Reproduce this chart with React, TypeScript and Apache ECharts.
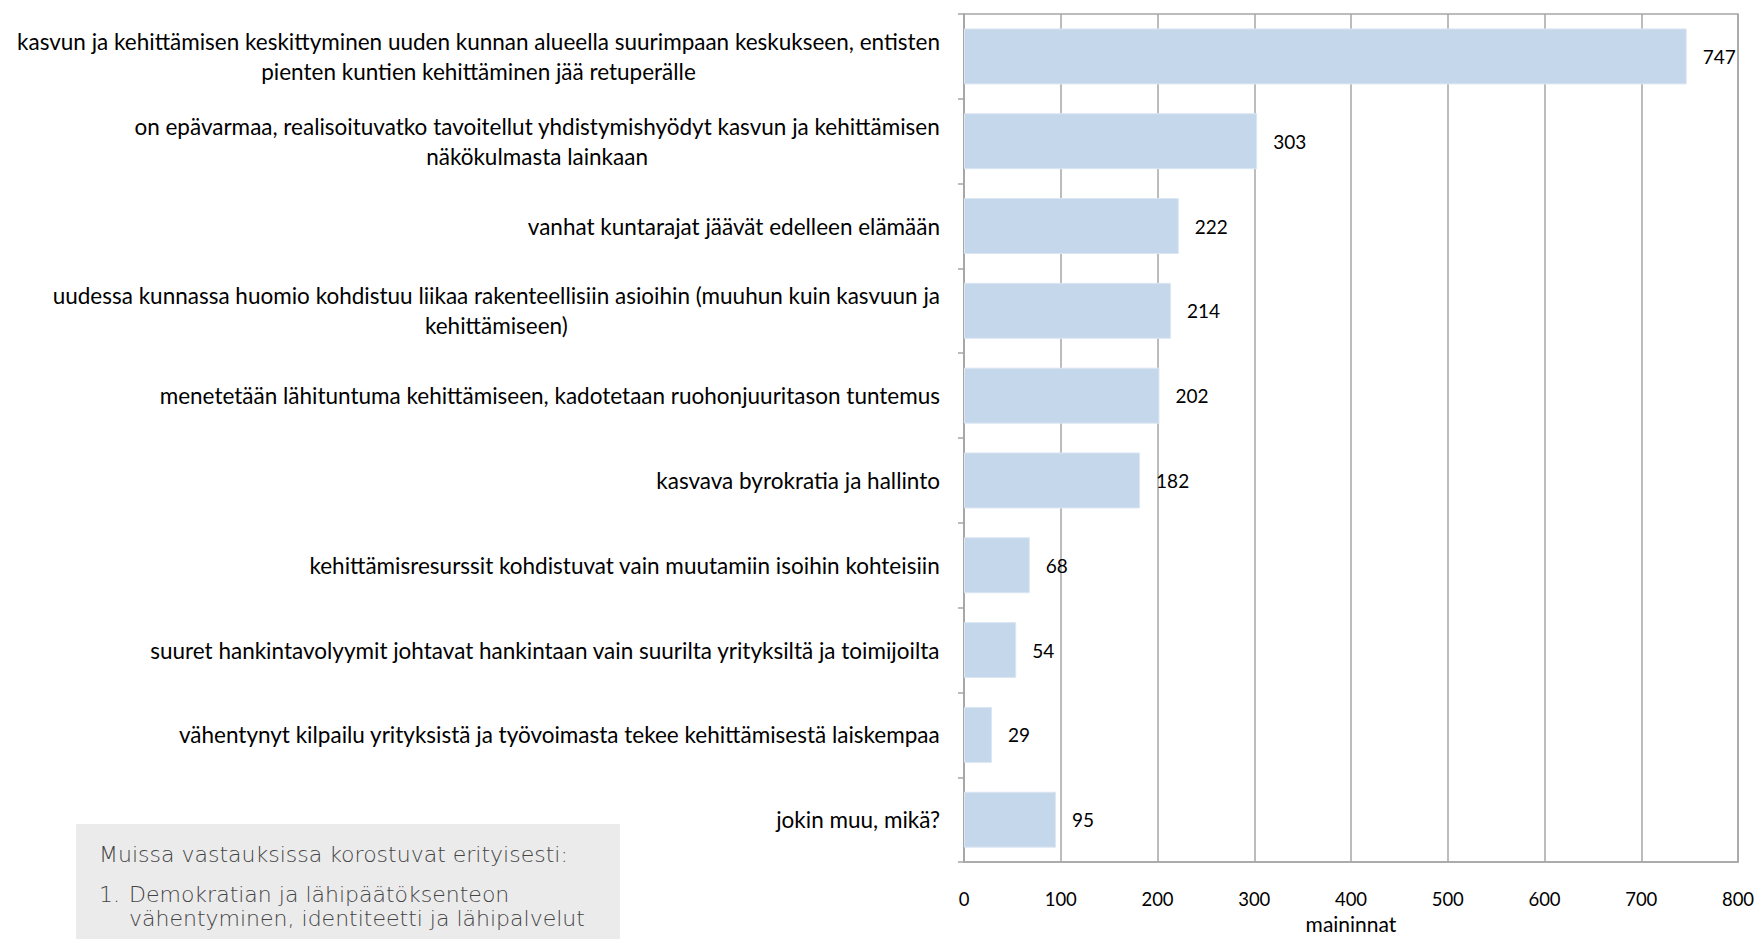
import React, { useEffect, useRef } from "react";
import * as echarts from "echarts";

const categories: string[] = [
  "kasvun ja kehittämisen keskittyminen uuden kunnan alueella suurimpaan keskukseen, entisten\npienten kuntien kehittäminen jää retuperälle",
  "on epävarmaa, realisoituvatko tavoitellut yhdistymishyödyt kasvun ja kehittämisen\nnäkökulmasta lainkaan",
  "vanhat kuntarajat jäävät edelleen elämään",
  "uudessa kunnassa huomio kohdistuu liikaa rakenteellisiin asioihin (muuhun kuin kasvuun ja\nkehittämiseen)",
  "menetetään lähituntuma kehittämiseen, kadotetaan ruohonjuuritason tuntemus",
  "kasvava byrokratia ja hallinto",
  "kehittämisresurssit kohdistuvat vain muutamiin isoihin kohteisiin",
  "suuret hankintavolyymit johtavat hankintaan vain suurilta yrityksiltä ja toimijoilta",
  "vähentynyt kilpailu yrityksistä ja työvoimasta tekee kehittämisestä laiskempaa",
  "jokin muu, mikä?",
];
const values: number[] = [747, 303, 222, 214, 202, 182, 68, 54, 29, 95];
const xTicks = { min: 0, max: 800, interval: 100 };
const axisName = "maininnat";
const noteTitle = "Muissa vastauksissa korostuvat erityisesti:";
const noteItem = ["1.", "Demokratian ja lähipäätöksenteon", "vähentyminen, identiteetti ja lähipalvelut"];

export default function App() {
  const ref = useRef<HTMLDivElement>(null);
  useEffect(() => {
    if (!ref.current) return;
    const chart = echarts.init(ref.current, null, { renderer: "svg" });
    const grey = "#a6a6a6";
    const noteStyle = {
      fontFamily: "DejaVu Sans",
      fontWeight: 200 as any,
      fontSize: 22,
      fill: "#444",
      verticalAlign: "middle",
    };
    chart.setOption({
      animation: false,
      backgroundColor: "#ffffff",
      grid: {
        left: 964,
        right: 20,
        top: 14,
        bottom: 65,
        show: true,
        borderColor: grey,
        borderWidth: 1.5,
      },
      xAxis: {
        type: "value",
        min: xTicks.min,
        max: xTicks.max,
        interval: xTicks.interval,
        name: axisName,
        nameLocation: "middle",
        nameGap: 44,
        nameTextStyle: { fontFamily: "Lato", fontSize: 21, color: "#000" },
        axisLine: { show: true, lineStyle: { color: grey, width: 1.5 } },
        axisTick: { show: false },
        axisLabel: { margin: 27, fontFamily: "Lato", fontSize: 18.5, color: "#000" },
        splitLine: { show: true, lineStyle: { color: grey, width: 1.5 } },
      },
      yAxis: {
        type: "category",
        inverse: true,
        data: categories,
        axisLine: { show: true, lineStyle: { color: grey, width: 1.5 } },
        axisTick: { show: true, length: 6, lineStyle: { color: grey, width: 1.5 } },
        axisLabel: {
          margin: 24,
          align: "right",
          formatter: (v: string) =>
            v
              .split("\n")
              .map((l) => `{c|${l}}`)
              .join("\n"),
          rich: {
            c: {
              align: "center",
              fontFamily: "Lato",
              fontSize: 22.5,
              lineHeight: 30,
              color: "#000",
            },
          },
        },
      },
      series: [
        {
          type: "bar",
          data: values,
          barCategoryGap: "34%",
          itemStyle: { color: "#c5d7eb", borderColor: "#dbe6f3", borderWidth: 1 },
          label: {
            show: true,
            position: "right",
            distance: 16,
            fontFamily: "Lato",
            fontSize: 19,
            color: "#000",
          },
        },
      ],
      graphic: [
        {
          type: "rect",
          shape: { x: 76, y: 824, width: 544, height: 130 },
          style: { fill: "#ebebeb" },
          z: 10,
        },
        { type: "text", x: 99, y: 854, style: { ...noteStyle, text: noteTitle }, z: 11 },
        { type: "text", x: 99, y: 894, style: { ...noteStyle, text: noteItem[0] }, z: 11 },
        { type: "text", x: 129, y: 894, style: { ...noteStyle, text: noteItem[1] }, z: 11 },
        { type: "text", x: 129, y: 918, style: { ...noteStyle, text: noteItem[2] }, z: 11 },
      ],
    });
    return () => chart.dispose();
  }, []);
  return <div ref={ref} style={{ width: 1758, height: 939, position: "absolute", left: 0, top: 0 }} />;
}
